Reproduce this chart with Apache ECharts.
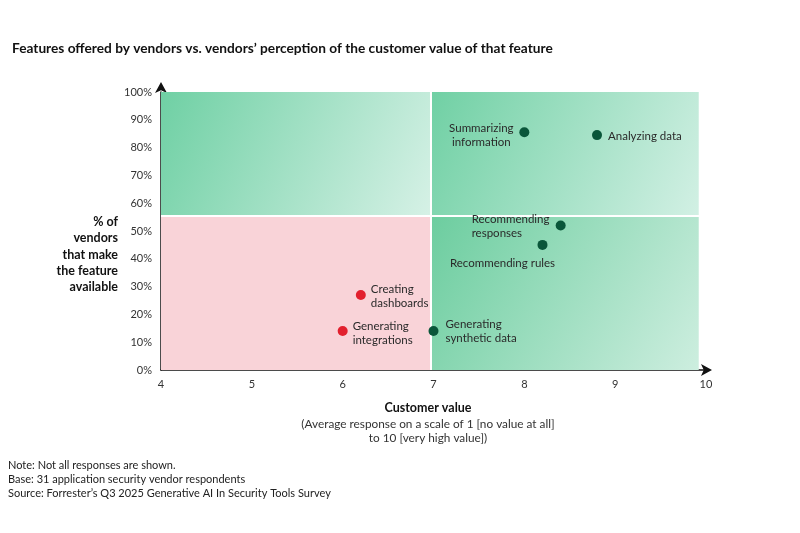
<!DOCTYPE html>
<html><head><meta charset="utf-8">
<script src="https://cdn.jsdelivr.net/npm/echarts@6/dist/echarts.min.js"></script>
<style>html,body{margin:0;padding:0;background:#fff}#c{width:800px;height:533px}</style>
</head><body><div id="c"></div>
<script>
const features = ['Creating dashboards','Generating integrations','Generating synthetic data','Summarizing information','Analyzing data','Recommending responses','Recommending rules'];
const customerValue = [6.2, 6.0, 7.0, 8.0, 8.8, 8.4, 8.2];
const vendorPct = [27, 14, 14, 85.5, 84.5, 52, 45];
const lowValueGroup = [true, true, false, false, false, false, false];
const xTicks = [4,5,6,7,8,9,10];
const yTicks = [0,10,20,30,40,50,60,70,80,90,100];
const xSplit = 6.97;
const ySplit = 55.5;
const quadrantXMax = 9.92;

const labelCfg = {
  'Creating dashboards': {text:'Creating\ndashboards', position:'right', align:'left', offset:[0,1]},
  'Generating integrations': {text:'Generating\nintegrations', position:'right', align:'left', offset:[0,2]},
  'Generating synthetic data': {text:'Generating\nsynthetic data', position:'right', align:'left', offset:[2,0]},
  'Summarizing information': {text:'Summarizing\ninformation', position:'left', align:'center', offset:[-33,3]},
  'Analyzing data': {text:'Analyzing data', position:'right', align:'left', offset:[1,1]},
  'Recommending responses': {text:'Recommending\nresponses', position:'left', align:'left', offset:[-79,1]},
  'Recommending rules': {text:'Recommending rules', position:'bottom', align:'center', offset:[-40,1]}
};

const red = '#e2202e', green = '#0a563a';
const pts = features.map((f,i)=>{
  const c = labelCfg[f];
  return {
    value:[customerValue[i], vendorPct[i]],
    itemStyle:{color: lowValueGroup[i] ? red : green, opacity:1},
    label:{show:true, formatter:c.text, position:c.position, align:c.align, offset:c.offset,
      distance:5, color:'#2a2a2a', fontSize:11.5, lineHeight:14, fontFamily:'Lato'}
  };
});

function grad(x0,y0,x1,y1,a,b){return {type:'linear',x:x0,y:y0,x2:x1,y2:y1,colorStops:[{offset:0,color:a},{offset:1,color:b}]};}

const chart = echarts.init(document.getElementById('c'));
chart.setOption({
  animation:false,
  textStyle:{fontFamily:'Lato'},
  title:{text:'Features offered by vendors vs. vendors\u2019 perception of the customer value of that feature',
    left:7, top:37, textStyle:{fontSize:13.7, fontWeight:'bold', color:'#111', fontFamily:'Lato'}},
  graphic:[
    {type:'text', left:8, top:458, style:{text:'Note: Not all responses are shown.\nBase: 31 application security vendor respondents\nSource: Forrester\u2019s Q3 2025 Generative AI In Security Tools Survey', fill:'#222', font:'11px Lato', lineHeight:14}},
    {type:'text', x:428, y:401, style:{text:'Customer value', fill:'#111', font:'bold 12.5px Lato', align:'center', verticalAlign:'top'}},
    {type:'text', x:428, y:417, style:{text:'(Average response on a scale of 1 [no value at all]\nto 10 [very high value])', fill:'#333', font:'11.8px Lato', align:'center', verticalAlign:'top', lineHeight:14}},
    {type:'text', x:118, y:214, style:{text:'% of\nvendors\nthat make\nthe feature\navailable', fill:'#111', font:'bold 12.5px Lato', align:'right', verticalAlign:'top', lineHeight:16.3}}
  ],
  grid:{left:161, right:94, top:92, bottom:163},
  xAxis:{type:'value', min:4, max:10, interval:1,
    axisLine:{show:true, lineStyle:{color:'#111', width:1.5}, symbol:['none','arrow'], symbolSize:[9,11], symbolOffset:[0,6]},
    axisTick:{show:false}, splitLine:{show:false},
    axisLabel:{color:'#333', fontSize:11, margin:9, formatter:v=>xTicks.includes(v)?String(v):''}},
  yAxis:{type:'value', min:0, max:100, interval:10,
    axisLine:{show:true, lineStyle:{color:'#111', width:1.5}, symbol:['none','arrow'], symbolSize:[9,11], symbolOffset:[0,10]},
    axisTick:{show:false}, splitLine:{show:false},
    axisLabel:{color:'#333', fontSize:11, margin:9, formatter:v=>yTicks.includes(v)?v+'%':''}},
  series:[{
    type:'scatter', symbolSize:10, data:pts, z:5,
    markArea:{silent:true, z:1, data:[
      [{xAxis:4,yAxis:ySplit,itemStyle:{color:grad(0,0,1,1,'#6fd0a4','#d6f1e6')}},{xAxis:xSplit,yAxis:100}],
      [{xAxis:xSplit,yAxis:ySplit,itemStyle:{color:grad(0,0,1,1,'#70d0a4','#d2f0e4')}},{xAxis:quadrantXMax,yAxis:100}],
      [{xAxis:xSplit,yAxis:0,itemStyle:{color:grad(0,0,1,1,'#6ccd9f','#cdeedf')}},{xAxis:quadrantXMax,yAxis:ySplit}],
      [{xAxis:4,yAxis:0,itemStyle:{color:'#f9d3d8'}},{xAxis:xSplit,yAxis:ySplit}]
    ]},
    markLine:{silent:true, symbol:'none', label:{show:false}, lineStyle:{color:'#fff', width:2, type:'solid'},
      data:[{xAxis:xSplit},{yAxis:ySplit}]}
  }]
});
</script></body></html>
